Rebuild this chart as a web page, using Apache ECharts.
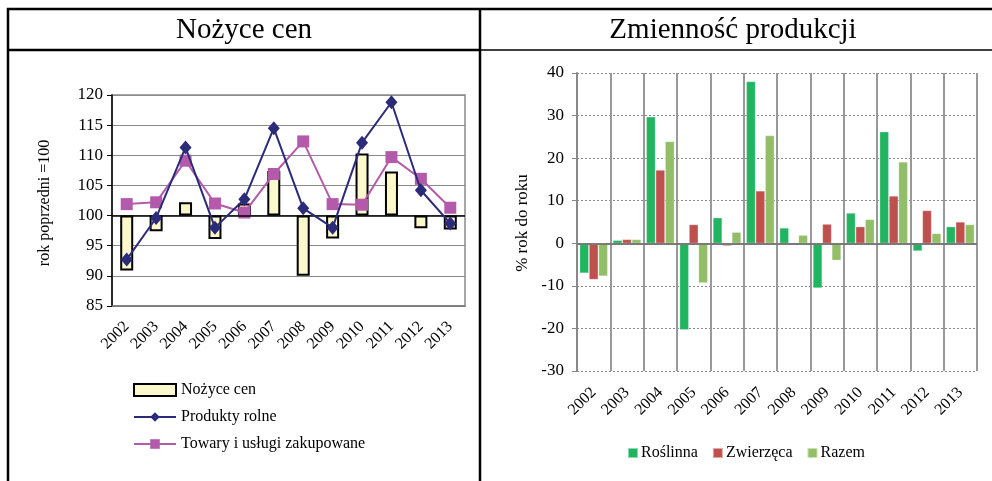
<!DOCTYPE html>
<html>
<head>
<meta charset="utf-8">
<script src="https://cdn.jsdelivr.net/npm/echarts@6/dist/echarts.min.js"></script>
<style>
html,body{margin:0;padding:0;background:#fff;}
#chart{width:992px;height:481px;}
</style>
</head>
<body>
<div id="chart"></div>
<script>
var years = ['2002','2003','2004','2005','2006','2007','2008','2009','2010','2011','2012','2013'];
// Nożyce cen (rok poprzedni = 100)
var nozyce = [90.9, 97.4, 102.2, 96.1, 102.0, 107.4, 90.0, 96.2, 110.3, 107.3, 97.9, 97.7];
var produkty = [92.7, 99.6, 111.3, 98.0, 102.7, 114.5, 101.2, 98.0, 112.1, 118.8, 104.2, 98.7];
var towary = [101.9, 102.2, 109.1, 102.0, 100.5, 106.9, 112.3, 101.9, 101.8, 109.7, 106.1, 101.3];
// Zmienność produkcji (% rok do roku)
var roslinna = [-7.0, 0.7, 29.7, -20.3, 6.0, 38.0, 3.6, -10.5, 7.1, 26.2, -1.8, 3.9];
var zwierzeca = [-8.5, 0.9, 17.2, 4.4, -0.6, 12.3, -0.3, 4.5, 3.9, 11.1, 7.7, 5.0];
var razem = [-7.7, 0.9, 23.9, -9.3, 2.6, 25.3, 1.9, -4.0, 5.6, 19.1, 2.3, 4.4];

var FONT = 'Liberation Serif';
var baseline = 100;
var nozBase = nozyce.map(function(v){ return Math.min(v, baseline); });
var nozDiff = nozyce.map(function(v){ return Math.abs(v - baseline); });

var chart = echarts.init(document.getElementById('chart'), null, {renderer:'canvas'});
var option = {
  animation: false,
  backgroundColor: '#fff',
  textStyle: {fontFamily: FONT, color: '#000'},
  grid: [
    {left: 112, right: 527, top: 95, bottom: 175, show: true, borderColor: '#8a8a8a', borderWidth: 1.5, backgroundColor: '#fff'},
    {left: 577, right: 15, top: 73, bottom: 110}
  ],
  xAxis: [
    {type: 'category', gridIndex: 0, data: years,
     axisLine: {show: true, onZero: false, lineStyle: {color: '#777', width: 1.5}},
     axisTick: {show: false},
     axisLabel: {rotate: 45, margin: 18, fontSize: 16, fontFamily: FONT, color: '#000'}},
    {type: 'category', gridIndex: 1, data: years,
     axisLine: {show: false, onZero: false},
     axisTick: {show: false},
     splitLine: {show: true, lineStyle: {color: '#999', width: 2}},
     axisLabel: {rotate: 45, margin: 19, fontSize: 16, fontFamily: FONT, color: '#000'}}
  ],
  yAxis: [
    {type: 'value', gridIndex: 0, min: 85, max: 120, interval: 5,
     axisLine: {show: true, lineStyle: {color: '#000', width: 1.5}},
     axisTick: {show: true, length: 5, lineStyle: {color: '#000'}},
     splitLine: {show: true, lineStyle: {color: '#8a8a8a', width: 1}},
     axisLabel: {fontSize: 17, fontFamily: FONT, color: '#000', margin: 9}},
    {type: 'value', gridIndex: 1, min: -30, max: 40, interval: 10,
     axisLine: {show: true, lineStyle: {color: '#888', width: 2}},
     axisTick: {show: true, length: 5, lineStyle: {color: '#888'}},
     splitLine: {show: true, lineStyle: {color: '#888', width: 1, type: [2, 2]}},
     axisLabel: {fontSize: 17, fontFamily: FONT, color: '#000', margin: 13}}
  ],
  legend: [
    {orient: 'vertical', left: 128, top: 377, itemGap: 11, itemWidth: 42, itemHeight: 12,
     data: [{name: 'Nożyce cen', icon: 'rect'}, {name: 'Produkty rolne'}, {name: 'Towary i usługi zakupowane'}],
     textStyle: {fontSize: 16, fontFamily: FONT, color: '#000'}},
    {orient: 'horizontal', left: 622, top: 440, itemGap: 14, itemWidth: 10, itemHeight: 10,
     data: [{name: 'Roślinna', icon: 'rect'}, {name: 'Zwierzęca', icon: 'rect'}, {name: 'Razem', icon: 'rect'}],
     textStyle: {fontSize: 16, fontFamily: FONT, color: '#000', padding: [0, 0, 0, -2]}}
  ],
  graphic: [
    {type: 'line', shape: {x1: 7, y1: 9, x2: 992, y2: 9}, style: {stroke: '#000', lineWidth: 2.5}},
    {type: 'line', shape: {x1: 7, y1: 50, x2: 480, y2: 50}, style: {stroke: '#000', lineWidth: 2.5}},
    {type: 'line', shape: {x1: 480, y1: 50, x2: 992, y2: 50}, style: {stroke: '#000', lineWidth: 1.5}},
    {type: 'line', shape: {x1: 8, y1: 8, x2: 8, y2: 481}, style: {stroke: '#000', lineWidth: 2.5}},
    {type: 'line', shape: {x1: 480, y1: 8, x2: 480, y2: 481}, style: {stroke: '#000', lineWidth: 2.5}},
    {type: 'text', x: 244, y: 30, style: {text: 'Nożyce cen', font: '29px "Liberation Serif"', fill: '#000', textAlign: 'center', textVerticalAlign: 'middle'}},
    {type: 'text', x: 733, y: 30, style: {text: 'Zmienność produkcji', font: '29px "Liberation Serif"', fill: '#000', textAlign: 'center', textVerticalAlign: 'middle'}},
    {type: 'text', x: 45, y: 203, rotation: Math.PI / 2, style: {text: 'rok poprzedni =100', font: '16px "Liberation Serif"', fill: '#000', textAlign: 'center', textVerticalAlign: 'middle'}},
    {type: 'text', x: 523, y: 223, rotation: Math.PI / 2, style: {text: '% rok do roku', font: '17px "Liberation Serif"', fill: '#000', textAlign: 'center', textVerticalAlign: 'middle'}}
  ],
  series: [
    {name: 'base', type: 'bar', xAxisIndex: 0, yAxisIndex: 0, stack: 'noz', data: nozBase, barWidth: 13,
     itemStyle: {color: 'rgba(0,0,0,0)'}, silent: true, z: 2},
    {name: 'Nożyce cen', type: 'bar', xAxisIndex: 0, yAxisIndex: 0, stack: 'noz', data: nozDiff, barWidth: 13,
     itemStyle: {color: '#FBF8CB', borderColor: '#000', borderWidth: 2}, z: 2,
     markLine: {silent: true, symbol: 'none', label: {show: false},
       lineStyle: {color: '#000', width: 1.5, type: 'solid'}, data: [{yAxis: baseline}]}},
    {name: 'Towary i usługi zakupowane', type: 'line', xAxisIndex: 0, yAxisIndex: 0, data: towary,
     symbol: 'rect', symbolSize: 12, lineStyle: {color: '#B35AAB', width: 2},
     itemStyle: {color: '#B35AAB'}, z: 4},
    {name: 'Produkty rolne', type: 'line', xAxisIndex: 0, yAxisIndex: 0, data: produkty,
     symbol: 'diamond', symbolSize: [12, 14], lineStyle: {color: '#2C2B7A', width: 2},
     itemStyle: {color: '#2C2B7A'}, z: 5},
    {name: 'Roślinna', type: 'bar', xAxisIndex: 1, yAxisIndex: 1, data: roslinna,
     barGap: '4%', barCategoryGap: '16%',
     itemStyle: {color: '#21B562', borderColor: 'rgba(255,255,255,0.5)', borderWidth: 0.5},
     markLine: {silent: true, symbol: 'none', label: {show: false},
       lineStyle: {color: '#7a7a7a', width: 2, type: 'solid'}, data: [{yAxis: 0}]}},
    {name: 'Zwierzęca', type: 'bar', xAxisIndex: 1, yAxisIndex: 1, data: zwierzeca,
     barGap: '4%', barCategoryGap: '16%',
     itemStyle: {color: '#C0504D', borderColor: 'rgba(255,255,255,0.5)', borderWidth: 0.5}},
    {name: 'Razem', type: 'bar', xAxisIndex: 1, yAxisIndex: 1, data: razem,
     barGap: '4%', barCategoryGap: '16%',
     itemStyle: {color: '#93BE68', borderColor: 'rgba(255,255,255,0.5)', borderWidth: 0.5}}
  ]
};
chart.setOption(option);
</script>
</body>
</html>
